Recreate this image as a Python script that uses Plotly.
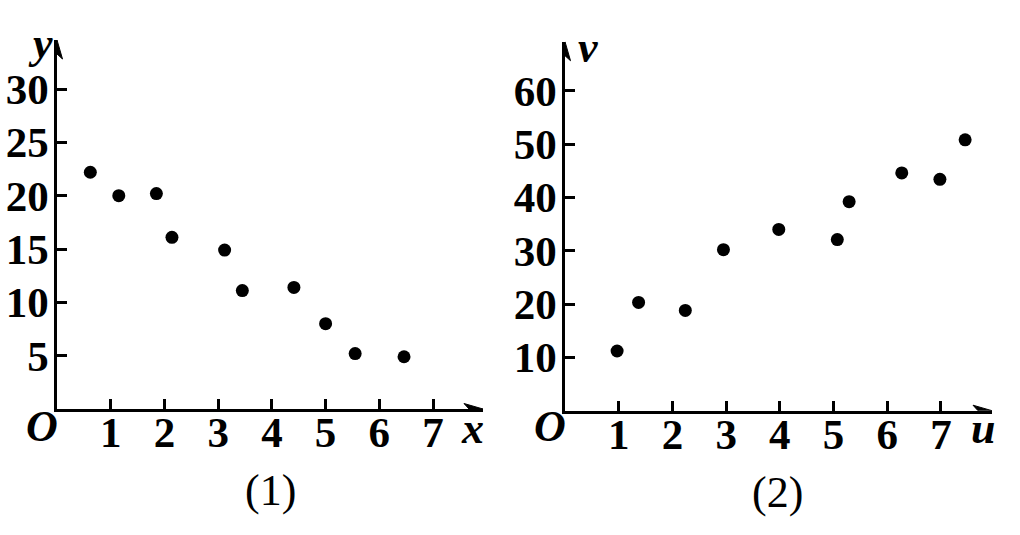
import plotly.graph_objects as go

# ---- data ----
x1 = [0.62, 1.15, 1.85, 2.14, 3.12, 3.45, 4.41, 5.0, 5.55, 6.46]
y1 = [22.2, 20.0, 20.2, 16.1, 14.9, 11.1, 11.4, 8.0, 5.2, 4.9]

u2 = [0.97, 1.37, 2.24, 2.95, 3.98, 5.07, 5.29, 6.27, 6.98, 7.45]
v2 = [11.2, 20.3, 18.8, 30.2, 34.0, 32.1, 39.2, 44.6, 43.4, 50.8]

x_ticks = [1, 2, 3, 4, 5, 6, 7]
y1_ticks = [5, 10, 15, 20, 25, 30]
v2_ticks = [10, 20, 30, 40, 50, 60]

W, H = 1020, 535
FONT = "Liberation Serif"

def px(x):
    return x / W

def py(y):
    return 1 - y / H

fig = go.Figure()
fig.add_trace(go.Scatter(x=x1, y=y1, mode="markers", xaxis="x", yaxis="y",
                         marker=dict(color="black", size=13), showlegend=False))
fig.add_trace(go.Scatter(x=u2, y=v2, mode="markers", xaxis="x2", yaxis="y2",
                         marker=dict(color="black", size=13), showlegend=False))

tickfont = dict(family=FONT, size=43, color="black", weight="bold")
common = dict(showgrid=False, zeroline=False, showline=True, linecolor="black",
              linewidth=2.5, ticks="inside", ticklen=10, tickwidth=2.5,
              tickcolor="black", tickfont=tickfont, fixedrange=True)

fig.update_layout(
    width=W, height=H,
    margin=dict(l=0, r=0, t=0, b=0),
    paper_bgcolor="white", plot_bgcolor="white",
    xaxis=dict(domain=[px(57), px(483)], range=[0, 7.93], tickvals=x_ticks,
               anchor="y", ticklabelstandoff=-16, **common),
    yaxis=dict(domain=[py(409), py(40)], range=[0, 34.6], tickvals=y1_ticks,
               anchor="x", ticklabelstandoff=-3, **common),
    xaxis2=dict(domain=[px(565), px(992)], range=[0, 7.95], tickvals=x_ticks,
                anchor="y2", ticklabelstandoff=-16, **common),
    yaxis2=dict(domain=[py(410.7), py(41.7)], range=[0, 69.2], tickvals=v2_ticks,
                anchor="x2", ticklabelstandoff=-3, **common),
)

# arrowheads at axis ends (pixel-sized shapes anchored at axis ends)
def arrow(xref, yref, xa, ya, direction):
    if direction == "right":
        path = "M0,0 L-19,5.5 L-14,0 L-19,-5.5 Z"
    else:
        path = "M0,0 L-5.5,-19 L0,-14 L5.5,-19 Z"
    fig.add_shape(type="path", xref=xref, yref=yref, xsizemode="pixel",
                  ysizemode="pixel", xanchor=xa, yanchor=ya, path=path,
                  fillcolor="black", line=dict(color="black", width=1))

arrow("x", "y", 7.93, 0, "right")
arrow("x", "y", 0, 34.6, "up")
arrow("x2", "y2", 7.95, 0, "right")
arrow("x2", "y2", 0, 69.2, "up")

ital = dict(family=FONT, size=44, color="black", style="italic", weight="bold")
plain = dict(family=FONT, size=44, color="black")

def label(text, x, y, font):
    fig.add_annotation(text=text, x=px(x), y=py(y), xref="paper", yref="paper",
                       showarrow=False, font=font, xanchor="center", yanchor="middle")

label("O", 42, 426, ital)
label("x", 472, 428, ital)
label("y", 40, 44, ital)
label("(1)", 270, 490, plain)
label("O", 550, 426, ital)
label("u", 983, 428, ital)
label("v", 588, 48, ital)
label("(2)", 777, 492, plain)

fig.write_html("out.html", config={"displayModeBar": False},
               post_script="document.body.style.margin='0';")
